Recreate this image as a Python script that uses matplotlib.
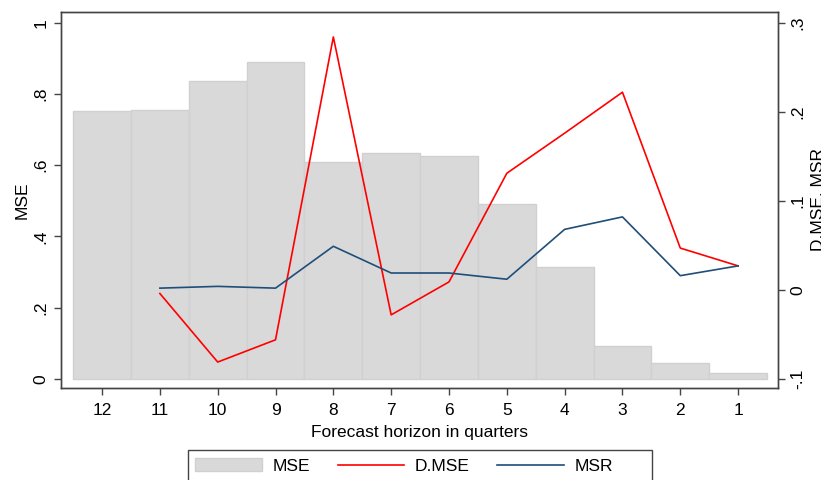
import matplotlib
matplotlib.use("Agg")
import matplotlib.pyplot as plt
from matplotlib.patches import Patch, Rectangle
from matplotlib.lines import Line2D

plt.rcParams['font.family'] = ['Liberation Sans', 'DejaVu Sans']

horizons = [12, 11, 10, 9, 8, 7, 6, 5, 4, 3, 2, 1]
mse = [0.752, 0.755, 0.836, 0.890, 0.609, 0.634, 0.626, 0.492, 0.315, 0.094, 0.045, 0.017]
d_horizons = [11, 10, 9, 8, 7, 6, 5, 4, 3, 2, 1]
d_mse = [-0.004, -0.081, -0.056, 0.284, -0.028, 0.009, 0.131, 0.176, 0.222, 0.047, 0.027]
msr = [0.002, 0.004, 0.002, 0.049, 0.019, 0.019, 0.012, 0.068, 0.082, 0.016, 0.027]

left_ticks = [0, 0.2, 0.4, 0.6, 0.8, 1.0]
left_labels = ['0', '.2', '.4', '.6', '.8', '1']
right_ticks = [-0.1, 0, 0.1, 0.2, 0.3]
right_labels = ['-.1', '0', '.1', '.2', '.3']

fs = 12.5
frame_col = '#444444'

fig = plt.figure(figsize=(8.21, 4.80), dpi=100)
ax = fig.add_axes([61/821, 1-388/480, (778-61)/821, (388-11.7)/480])
ax2 = ax.twinx()

ax.bar(horizons, mse, width=1.0, color='#d9d9d9', edgecolor='#d0d0d0', linewidth=1.0, zorder=1)
ax2.plot(d_horizons, d_mse, color='#ff0000', lw=1.2, zorder=3)
ax2.plot(d_horizons, msr, color='#1f4e79', lw=1.2, zorder=3)

ax.set_xlim(12.71, 0.31)
ylo, yhi = -0.0253, 1.031
ax.set_ylim(ylo, yhi)
ax2.set_ylim(-0.1 + 0.4*ylo, -0.1 + 0.4*yhi)

ax.set_xticks(horizons)
ax.set_xticklabels([str(h) for h in horizons], fontsize=fs)
ax.set_yticks(left_ticks)
ax.set_yticklabels(left_labels, fontsize=fs, rotation=90, va='center')
ax2.set_yticks(right_ticks)
ax2.set_yticklabels(right_labels, fontsize=fs, rotation=90, va='center')

for a in (ax, ax2):
    a.tick_params(direction='out', length=5, width=1, color=frame_col, pad=4)
    for s in a.spines.values():
        s.set_color(frame_col)
        s.set_linewidth(1.0)
ax.tick_params(axis='x', pad=6)

ax.set_xlabel('Forecast horizon in quarters', fontsize=fs, labelpad=5)
ax.set_ylabel('MSE', fontsize=fs, labelpad=3)
ax2.set_ylabel('D.MSE, MSR', fontsize=fs, rotation=90, labelpad=4)

handles = [Patch(facecolor='#d9d9d9', edgecolor='#d0d0d0'),
           Line2D([], [], color='#ff0000', lw=1.2),
           Line2D([], [], color='#1f4e79', lw=1.2)]
leg = fig.legend(handles, ['MSE', 'D.MSE', 'MSR'], ncol=3, loc='center left',
                 bbox_to_anchor=(195/821, 1-466/480), fontsize=fs, frameon=False,
                 handlelength=3.85, handletextpad=0.6, columnspacing=1.6,
                 borderpad=0, borderaxespad=0)
fig.patches.append(Rectangle((188/821, 1-492/480), (652-188)/821, 42/480,
                             transform=fig.transFigure, fill=False,
                             edgecolor=frame_col, linewidth=1.0))

fig.savefig('out.png', dpi=100)
